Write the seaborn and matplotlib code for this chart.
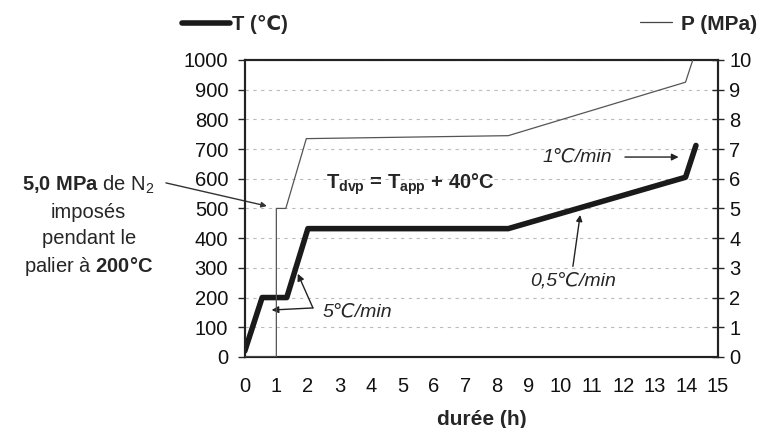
import numpy as np
import pandas as pd
import seaborn as sns
import matplotlib.pyplot as plt
from matplotlib.lines import Line2D

# temperature programme (h, °C)
t_hours = [0, 0.55, 1.33, 2.0, 8.35, 13.97, 14.3]
t_celsius = [20, 200, 200, 432, 432, 605, 712]

# pressure programme (h, MPa)
p_hours = [0, 1.0, 1.0, 1.3, 1.95, 8.35, 13.97, 14.2]
p_mpa = [0, 0, 5.0, 5.0, 7.35, 7.45, 9.25, 10.0]

x_ticks = list(range(0, 16))
t_ticks = list(range(0, 1001, 100))
p_ticks = list(range(0, 11))

sns.set_style("white")
plt.rcParams['font.family'] = ['Liberation Sans', 'DejaVu Sans']
plt.rcParams['mathtext.fontset'] = 'custom'
plt.rcParams['mathtext.rm'] = 'Liberation Sans'
plt.rcParams['mathtext.bf'] = 'Liberation Sans:bold'
plt.rcParams['mathtext.it'] = 'Liberation Sans:italic'

df_t = pd.DataFrame({'h': t_hours, 'T': t_celsius})
df_p = pd.DataFrame({'h': p_hours, 'P': p_mpa})

fig = plt.figure(figsize=(7.65, 4.28), dpi=100)
ax = fig.add_axes([0.320, 0.166, 0.6186, 0.694])
ax2 = ax.twinx()

sns.lineplot(data=df_t, x='h', y='T', ax=ax, sort=False, estimator=None,
             color='#1a1a1a', linewidth=4.0, zorder=5)
sns.lineplot(data=df_p, x='h', y='P', ax=ax2, sort=False, estimator=None,
             color='#555555', linewidth=0.9, zorder=4)

ax.set_xlim(0, 15)
ax.set_ylim(0, 1000)
ax2.set_ylim(0, 10)
ax.set_xticks(x_ticks)
ax.set_yticks(t_ticks)
ax2.set_yticks(p_ticks)
ax.set_ylabel('')
ax2.set_ylabel('')
ax.set_xlabel('durée (h)', fontsize=15, fontweight='bold', labelpad=10)

for a in (ax, ax2):
    for s in a.spines.values():
        s.set_linewidth(1.5)
        s.set_color('#222222')
ax.yaxis.grid(True, linestyle=(0, (3, 4)), color='#bbbbbb', linewidth=0.8)
ax.set_axisbelow(True)

ax.tick_params(axis='y', direction='out', length=5, width=1, pad=7, labelsize=14.5,
               labelcolor='#111111')
ax.tick_params(axis='x', direction='inout', length=7, width=1, pad=11, labelsize=14.5,
               labelcolor='#111111')
ax2.tick_params(axis='y', direction='inout', length=8, width=1, pad=4, labelsize=14.5,
                labelcolor='#111111')

# legends above each axis
fig.legend(handles=[Line2D([], [], color='#1a1a1a', linewidth=4.0)], labels=['T (℃)'],
           loc='center left', bbox_to_anchor=(182 / 765, 1 - 25 / 428),
           frameon=False, borderpad=0, borderaxespad=0, handlelength=2.4,
           handletextpad=0.1, prop={'weight': 'bold', 'size': 14.5})
fig.legend(handles=[Line2D([], [], color='#444444', linewidth=0.9)], labels=['P (MPa)'],
           loc='center left', bbox_to_anchor=(640 / 765, 1 - 24 / 428),
           frameon=False, borderpad=0, borderaxespad=0, handlelength=1.55,
           handletextpad=0.4, prop={'weight': 'bold', 'size': 15})

# annotations
ax.text(-4.95, 440, "$\\mathbf{5{,}0\\ MPa}$ de N$_2$\nimposés\npendant le\npalier à $\\mathbf{200°C}$",
        ha='center', va='center', multialignment='center', fontsize=14.5,
        linespacing=1.45, clip_on=False)
ax.annotate('', xy=(0.7, 508), xytext=(-2.5, 586), annotation_clip=False,
            arrowprops=dict(arrowstyle='-|>', color='#333333', lw=1.0,
                            mutation_scale=8, shrinkA=0, shrinkB=0))

ax.text(5.25, 580, "$\\mathbf{T_{dvp}}$ = $\\mathbf{T_{app}}$ + 40°C", fontweight='bold',
        ha='center', va='center', fontsize=14.5)

ax.text(2.45, 150, "5℃/min", fontstyle='italic', fontsize=14, ha='left', va='center')
ax.annotate('', xy=(1.68, 280), xytext=(2.16, 165),
            arrowprops=dict(arrowstyle='-|>', color='#222222', lw=1.0,
                            mutation_scale=10, shrinkA=0, shrinkB=0))
ax.annotate('', xy=(0.85, 158), xytext=(2.16, 165),
            arrowprops=dict(arrowstyle='-|>', color='#222222', lw=1.0,
                            mutation_scale=10, shrinkA=0, shrinkB=0))

ax.text(11.65, 673, "1℃/min", fontstyle='italic', fontsize=14, ha='right', va='center')
ax.annotate('', xy=(13.75, 673), xytext=(12.05, 673),
            arrowprops=dict(arrowstyle='-|>', color='#222222', lw=1.0,
                            mutation_scale=10, shrinkA=0, shrinkB=0))

ax.text(10.4, 255, "0,5℃/min", fontstyle='italic', fontsize=14, ha='center', va='center')
ax.annotate('', xy=(10.63, 478), xytext=(10.4, 305),
            arrowprops=dict(arrowstyle='-|>', color='#222222', lw=1.0,
                            mutation_scale=9, shrinkA=0, shrinkB=0))

fig.savefig('out.png', dpi=100)
